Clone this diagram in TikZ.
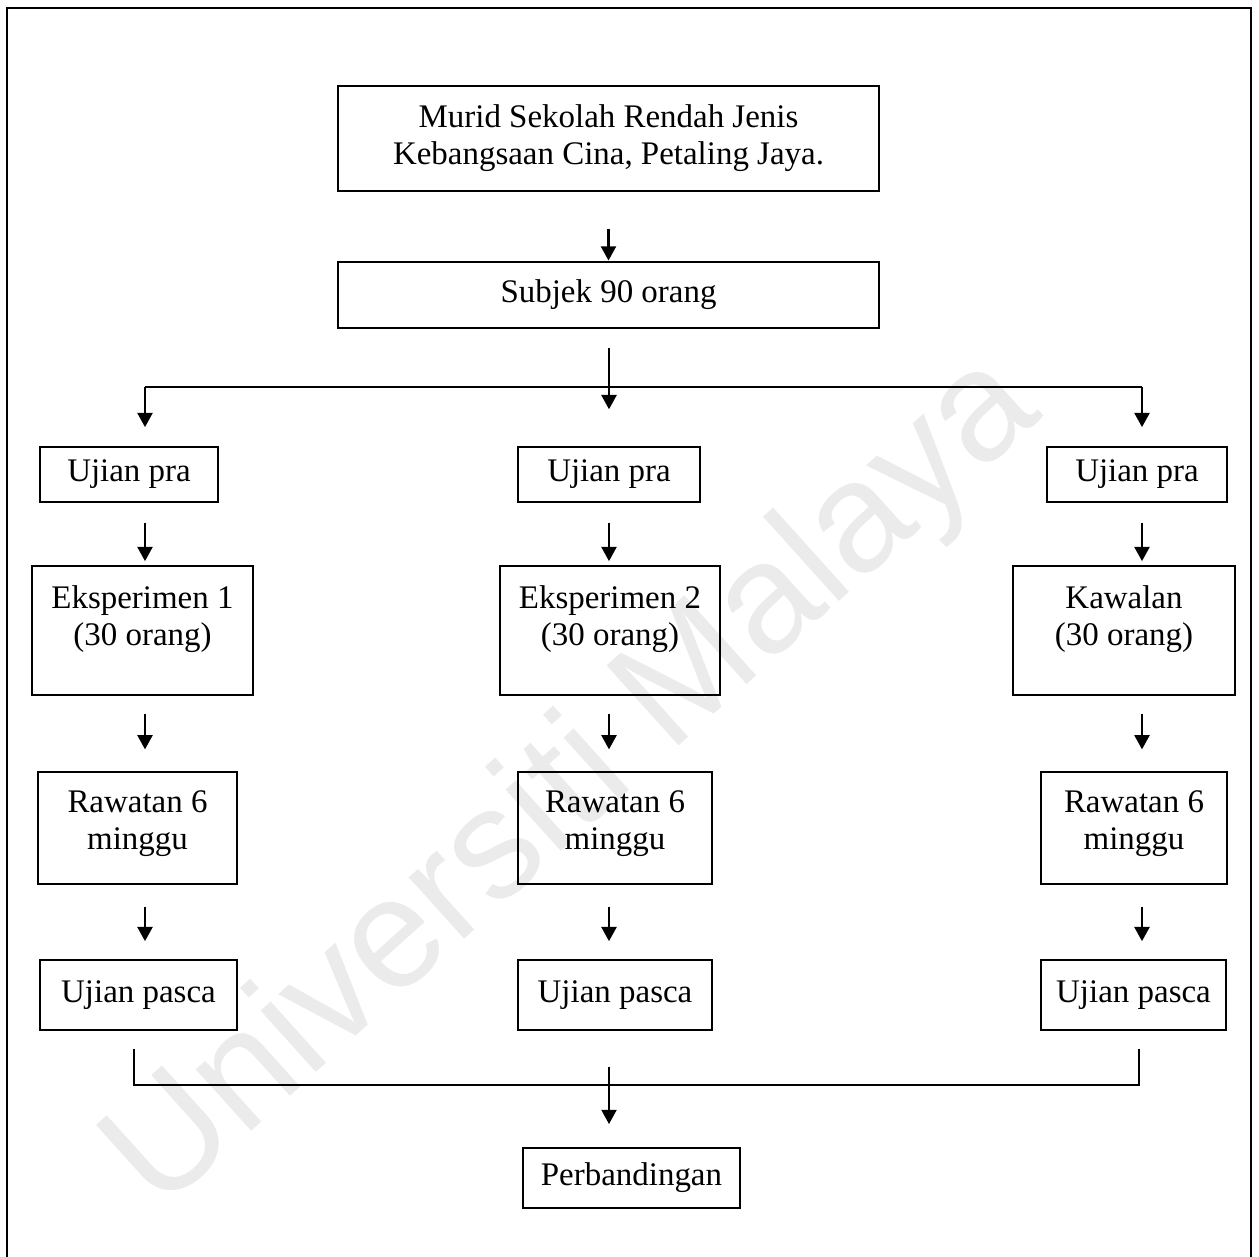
\documentclass[tikz,border=0pt]{standalone}
\usepackage{fontspec}
\setmainfont{Liberation Serif}
\newfontfamily\watermarkfont{Liberation Sans}
\usetikzlibrary{arrows.meta}
\pgfdeclarelayer{marklayer}
\pgfdeclarelayer{edgelayer}
\pgfdeclarelayer{nodelayer}
\pgfsetlayers{marklayer,edgelayer,nodelayer,main}
\definecolor{markgrey}{gray}{0.92}
\tikzstyle{box}=[rectangle, draw=black, line width=0.6pt, inner sep=0pt, align=center, font=\fontsize{12pt}{13.5pt}\selectfont]
\tikzstyle{edge}=[draw=black, line width=0.7pt]
\tikzstyle{arrow}=[draw=black, line width=0.8pt, -{Triangle[length=5.2pt, width=5.5pt]}]
\tikzstyle{frame}=[draw=black, line width=1pt]
\tikzstyle{watermark}=[text=markgrey, inner sep=0pt, rotate=42, font=\watermarkfont\fontsize{57pt}{57pt}\selectfont]

\begin{document}
\begin{tikzpicture}[x=0.0128cm, y=-0.0128cm]
	\useasboundingbox (0, 0) rectangle (1259, 1257);
	\begin{pgfonlayer}{marklayer}
		\clip (0, 0) rectangle (1259, 1257);
		\node [style=watermark] (um) at (575, 785) {Universiti Malaya};
	\end{pgfonlayer}
	\draw [style=frame] (7, 1257) -- (7, 8) -- (1251, 8) -- (1251, 1257);
	\begin{pgfonlayer}{nodelayer}
		\node [style=box, minimum width=6.92cm, minimum height=1.34cm] (murid) at (608.5, 138.5) {Murid Sekolah Rendah Jenis\\Kebangsaan Cina, Petaling Jaya.};
		\node [style=box, minimum width=6.92cm, minimum height=0.84cm] (subjek) at (608.5, 295) {Subjek 90 orang};
		\node [style=box, minimum width=2.28cm, minimum height=0.70cm] (pra1) at (129, 474.5) {Ujian pra};
		\node [style=box, minimum width=2.33cm, minimum height=0.70cm] (pra2) at (609, 474.5) {Ujian pra};
		\node [style=box, minimum width=2.30cm, minimum height=0.70cm] (pra3) at (1137, 474.5) {Ujian pra};
		\node [style=box, minimum width=2.83cm, minimum height=1.65cm] (eks1) at (142.5, 630.5) {Eksperimen 1\\(30 orang)\\[-6.5pt]\strut};
		\node [style=box, minimum width=2.82cm, minimum height=1.65cm] (eks2) at (610, 630.5) {Eksperimen 2\\(30 orang)\\[-6.5pt]\strut};
		\node [style=box, minimum width=2.84cm, minimum height=1.65cm] (eks3) at (1124, 630.5) {Kawalan\\(30 orang)\\[-6.5pt]\strut};
		\node [style=box, minimum width=2.55cm, minimum height=1.43cm] (raw1) at (137.5, 828) {Rawatan 6\\minggu\\[-11.5pt]\strut};
		\node [style=box, minimum width=2.48cm, minimum height=1.43cm] (raw2) at (615, 828) {Rawatan 6\\minggu\\[-11.5pt]\strut};
		\node [style=box, minimum width=2.38cm, minimum height=1.43cm] (raw3) at (1134, 828) {Rawatan 6\\minggu\\[-11.5pt]\strut};
		\node [style=box, minimum width=2.52cm, minimum height=0.90cm] (pasca1) at (138.5, 995) {Ujian pasca};
		\node [style=box, minimum width=2.48cm, minimum height=0.90cm] (pasca2) at (615, 995) {Ujian pasca};
		\node [style=box, minimum width=2.37cm, minimum height=0.90cm] (pasca3) at (1133.5, 995) {Ujian pasca};
		\node [style=box, minimum width=2.78cm, minimum height=0.77cm] (banding) at (631.5, 1178) {Perbandingan};
	\end{pgfonlayer}
	\coordinate (splitL) at (145, 387);
	\coordinate (splitR) at (1142, 387);
	\coordinate (colM) at (609, 387);
	\coordinate (joinL) at (134, 1085);
	\coordinate (joinR) at (1139, 1085);
	\coordinate (joinM) at (609, 1085);
	\begin{pgfonlayer}{edgelayer}
		\draw [style=arrow, shorten <=13.5pt, shorten >=0.3pt] (murid) -- (subjek);
		\draw [style=arrow, shorten <=7pt, shorten >=13.5pt] (subjek.south -| colM) -- (pra2.north -| colM);
		\draw [style=edge] (splitL) -- (splitR);
		\draw [style=arrow, shorten >=7pt] (splitL) -- (pra1.north -| splitL);
		\draw [style=arrow, shorten >=7pt] (splitR) -- (pra3.north -| splitR);
		\draw [style=arrow, shorten <=7.3pt, shorten >=1.5pt] (pra1.south -| splitL) -- (eks1.north -| splitL);
		\draw [style=arrow, shorten <=7.3pt, shorten >=1.5pt] (pra2.south -| colM) -- (eks2.north -| colM);
		\draw [style=arrow, shorten <=7.3pt, shorten >=1.5pt] (pra3.south -| splitR) -- (eks3.north -| splitR);
		\draw [style=arrow, shorten <=6.5pt, shorten >=8pt] (eks1.south -| splitL) -- (raw1.north -| splitL);
		\draw [style=arrow, shorten <=6.5pt, shorten >=8pt] (eks2.south -| colM) -- (raw2.north -| colM);
		\draw [style=arrow, shorten <=6.5pt, shorten >=8pt] (eks3.south -| splitR) -- (raw3.north -| splitR);
		\draw [style=arrow, shorten <=8pt, shorten >=6.5pt] (raw1.south -| splitL) -- (pasca1.north -| splitL);
		\draw [style=arrow, shorten <=8pt, shorten >=6.5pt] (raw2.south -| colM) -- (pasca2.north -| colM);
		\draw [style=arrow, shorten <=8pt, shorten >=6.5pt] (raw3.south -| splitR) -- (pasca3.north -| splitR);
		\draw [style=edge, shorten <=6.5pt, shorten >=6.5pt] (pasca1.south -| joinL) -- (joinL) -- (joinR) -- (pasca3.south -| joinR);
		\draw [style=arrow, shorten <=13pt, shorten >=8.4pt] (pasca2.south -| joinM) -- (banding.north -| joinM);
	\end{pgfonlayer}
\end{tikzpicture}
\end{document}
